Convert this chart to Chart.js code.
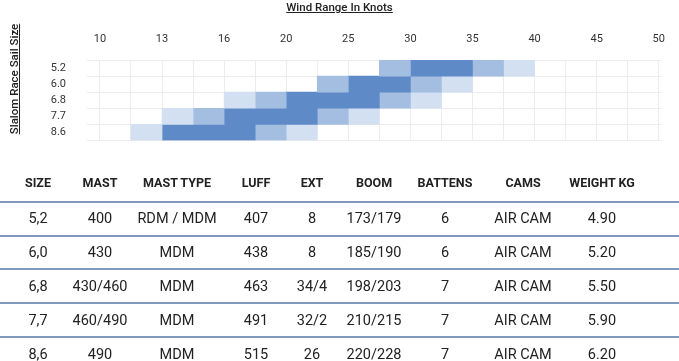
<!DOCTYPE html>
<html>
<head>
<meta charset="utf-8">
<script src="https://cdn.jsdelivr.net/npm/chart.js@4"></script>
<style>
    html, body { margin: 0; padding: 0; background: #fff; }
    body { width: 679px; height: 361px; overflow: hidden; position: relative; font-family: Roboto, "DejaVu Sans", sans-serif; color: #222; }
    .chart-wrap { position: absolute; left: 0; top: 0; width: 679px; height: 168px; }
    .x-title { position: absolute; top: 0; left: 0; width: 679px; text-align: center; font-size: 11.5px; font-weight: 500; text-decoration: underline; color: #222; }
    .y-title { position: absolute; left: 14px; top: 79px; transform: translate(-50%, -50%) rotate(-90deg); white-space: nowrap; font-size: 11.5px; font-weight: 500; text-decoration: underline; color: #222; }
    .spec { position: absolute; left: 0; top: 0; width: 679px; height: 361px; }
    .spec .line { position: absolute; left: 0; width: 679px; height: 2px; background: #8199bf; }
    .spec .cell { position: absolute; transform: translate(-50%, -50%); white-space: nowrap; }
    .spec .head { font-size: 12.5px; font-weight: 700; color: #222; }
    .spec .val { font-size: 14.5px; color: #222; }
</style>
</head>
<body>
<div class="chart-wrap"><canvas id="windChart" width="679" height="168"></canvas></div>
<div class="x-title">Wind Range In Knots</div>
<div class="y-title">Slalom Race Sail Size</div>
<div class="spec" id="specTable"></div>
<script>
const sailSizes = ['5.2', '6.0', '6.8', '7.7', '8.6'];
const windTicks = [10, 13, 16, 20, 25, 30, 35, 40, 45, 50];

// ranges in grid steps: one step per grid column, labelled tick every 2 steps
const lightLow = [null, null, [4, 5], [2, 3], [1, 2]];
const mediumLow = [[9, 10], [7, 8], [5, 6], [3, 4], null];
const peakRange = [[10, 12], [8, 10], [6, 9], [4, 7], [2, 5]];
const mediumHigh = [[12, 13], [10, 11], [9, 10], [7, 8], [5, 6]];
const lightHigh = [[13, 14], [11, 12], [10, 11], [8, 9], [6, 7]];

const tableHeaders = ['SIZE', 'MAST', 'MAST TYPE', 'LUFF', 'EXT', 'BOOM', 'BATTENS', 'CAMS', 'WEIGHT KG'];
const sizeCol = ['5,2', '6,0', '6,8', '7,7', '8,6'];
const mastCol = ['400', '430', '430/460', '460/490', '490'];
const mastTypeCol = ['RDM / MDM', 'MDM', 'MDM', 'MDM', 'MDM'];
const luffCol = ['407', '438', '463', '491', '515'];
const extCol = ['8', '8', '34/4', '32/2', '26'];
const boomCol = ['173/179', '185/190', '198/203', '210/215', '220/228'];
const battensCol = ['6', '6', '7', '7', '7'];
const camsCol = ['AIR CAM', 'AIR CAM', 'AIR CAM', 'AIR CAM', 'AIR CAM'];
const weightCol = ['4.90', '5.20', '5.50', '5.90', '6.20'];

const LIGHT = '#d3e0f2';
const MEDIUM = '#a4bee2';
const DARK = '#5f8ac8';
const GRID = '#ececec';
const STEPS = (windTicks.length - 1) * 2;

const barSet = (label, data, color) => ({
    label,
    data,
    backgroundColor: color,
    borderWidth: 0,
    borderSkipped: false,
    grouped: false,
    barPercentage: 1,
    categoryPercentage: 1,
});

new Chart(document.getElementById('windChart'), {
    type: 'bar',
    data: {
        labels: sailSizes,
        datasets: [
            barSet('Light low', lightLow, LIGHT),
            barSet('Medium low', mediumLow, MEDIUM),
            barSet('Peak', peakRange, DARK),
            barSet('Medium high', mediumHigh, MEDIUM),
            barSet('Light high', lightHigh, LIGHT),
        ],
    },
    options: {
        indexAxis: 'y',
        responsive: false,
        animation: false,
        layout: { padding: { left: 0, right: 5.6, top: 30, bottom: 10 } },
        plugins: {
            legend: { display: false },
            tooltip: { enabled: false },
        },
        scales: {
            x: {
                type: 'linear',
                position: 'top',
                min: -0.416,
                max: STEPS + 0.085,
                afterBuildTicks: (scale) => {
                    scale.ticks = Array.from({ length: STEPS + 1 }, (_, i) => ({ value: i }));
                },
                afterFit: (scale) => { scale.height = 30; },
                grid: { color: GRID, drawTicks: false },
                border: { display: false },
                ticks: {
                    padding: 14,
                    autoSkip: false,
                    maxRotation: 0,
                    color: '#333',
                    font: { family: 'Roboto', size: 11 },
                    callback: (value) => (value % 2 === 0 ? String(windTicks[value / 2]) : ''),
                },
            },
            y: {
                type: 'category',
                afterFit: (scale) => { scale.width = 87; },
                grid: { color: GRID, drawTicks: false, offset: true },
                border: { display: false },
                ticks: {
                    padding: 21,
                    autoSkip: false,
                    color: '#333',
                    font: { family: 'Roboto', size: 11 },
                },
            },
        },
    },
});

// spec table
const specRoot = document.getElementById('specTable');
const colCenters = [38, 100, 177, 256, 312, 374, 445, 523, 602];
const headerY = 182;
const rowY = [218, 252, 286, 320, 354];
const lineY = [201, 235, 268, 302, 336];
const columns = [sizeCol, mastCol, mastTypeCol, luffCol, extCol, boomCol, battensCol, camsCol, weightCol];

specRoot.innerHTML = [
    ...tableHeaders.map((h, i) => `<div class="cell head" style="left:${colCenters[i]}px;top:${headerY}px">${h}</div>`),
    ...lineY.map((y) => `<div class="line" style="top:${y}px"></div>`),
    ...columns.flatMap((col, c) => col.map((v, r) =>
        `<div class="cell val" style="left:${colCenters[c]}px;top:${rowY[r]}px">${v}</div>`)),
].join('');
</script>
</body>
</html>
